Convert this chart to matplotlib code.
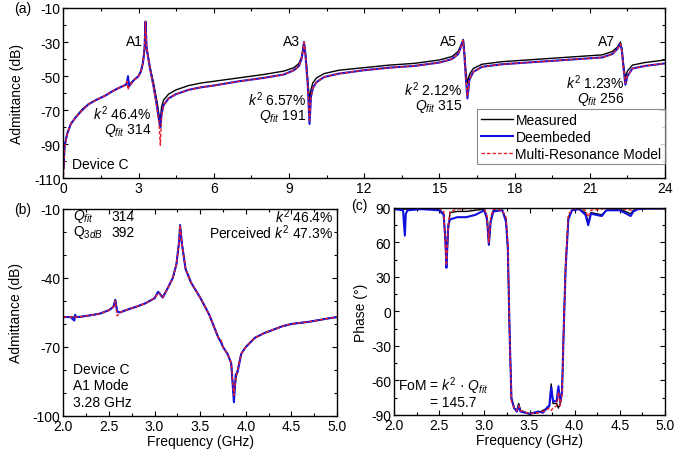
import matplotlib
matplotlib.use("Agg")
import matplotlib.pyplot as plt
from matplotlib.ticker import MultipleLocator

plt.rcParams['font.family'] = ['Liberation Sans', 'DejaVu Sans']
plt.rcParams['mathtext.fontset'] = 'custom'
plt.rcParams['mathtext.rm'] = 'Liberation Sans'
plt.rcParams['mathtext.it'] = 'Liberation Sans:italic'
plt.rcParams['font.size'] = 10
plt.rcParams['axes.unicode_minus'] = False

# ---- panel (a): wideband admittance, 0-24 GHz ----
freq_a = [0.01, 0.05, 0.15, 0.3, 0.5, 0.75, 1.0, 1.3, 1.66, 2.0,
          2.2, 2.5, 2.55, 2.58, 2.62, 2.8, 3.0, 3.1, 3.18, 3.24,
          3.28, 3.32, 3.45, 3.6, 3.75, 3.82, 3.87, 3.92, 4.0, 4.2,
          4.5, 5.0, 5.5, 6.0, 7.0, 8.0, 8.8, 9.2, 9.4, 9.5,
          9.56, 9.6, 9.66, 9.75, 9.82, 9.88, 9.95, 10.1, 10.4, 11.0,
          12.0, 13.0, 14.0, 15.0, 15.5, 15.75, 15.88, 15.95, 16.0, 16.06,
          16.12, 16.2, 16.35, 16.7, 17.5, 19.0, 20.5, 21.5, 21.9, 22.1,
          22.22, 22.28, 22.35, 22.42, 22.5, 22.7, 23.2, 24.0]
measured_a = [-104, -92, -84, -78, -74, -69.5, -66.5, -64, -61.5, -58.5,
              -57, -55, -53, -50.5, -55, -52.5, -50, -47, -42, -34,
              -18, -33, -44, -54, -66, -73, -76, -68, -64, -60.5,
              -58, -55.5, -54, -53, -51, -49, -47, -45, -42.5, -39,
              -34, -30, -36, -52, -64, -58, -54, -51, -48.5, -46.5,
              -45, -43.5, -42.5, -40.5, -38.5, -35.5, -31, -28.5, -36, -48,
              -54, -49, -45.5, -43, -41.5, -40, -38.5, -37.5, -35.5, -33,
              -30, -34, -44, -51, -47, -43.5, -42, -40.5]
deembed_a = [-104, -91, -84, -78, -74, -70, -66.5, -64, -61.5, -58.5,
             -57, -55, -53, -50, -56, -52.5, -50, -47, -42, -34,
             -18, -33, -45, -56, -69, -76, -80, -72, -67, -63,
             -60.5, -58, -56.5, -55.5, -53, -51, -49, -46.5, -44, -40,
             -35, -30, -38, -55, -78, -62, -57, -53.5, -50.5, -48.5,
             -46.5, -45, -44, -42, -40, -37, -32, -29, -38, -52,
             -63, -52, -47.5, -44.5, -43, -41.5, -40, -39, -37, -34,
             -31, -35, -46, -55, -50, -45.5, -44, -42.5]
model_a = [-108, -93, -84, -78, -74, -70, -66.5, -64, -61.5, -58.5,
           -57, -55, -53, -58, -56, -52.5, -50, -47, -42, -34,
           -18, -33, -45, -56, -70, -78, -90.5, -74, -67, -63,
           -60.5, -58, -56.5, -55.5, -53, -51, -49, -46.5, -44, -40,
           -35, -30, -38, -55, -76, -62, -57, -53.5, -50.5, -48.5,
           -46.5, -45, -44, -42, -40, -37, -32, -29, -38, -52,
           -62, -52, -47.5, -44.5, -43, -41.5, -40, -39, -37, -34,
           -31, -35, -46, -54, -50, -45.5, -44, -42.5]

# ---- panel (b): admittance around A1 ----
freq_b = [2.0, 2.08, 2.12, 2.13, 2.14, 2.2, 2.3, 2.4, 2.5, 2.55,
          2.57, 2.59, 2.62, 2.7, 2.8, 2.9, 3.0, 3.04, 3.06, 3.09,
          3.15, 3.2, 3.24, 3.27, 3.28, 3.3, 3.34, 3.4, 3.5, 3.6,
          3.7, 3.73, 3.75, 3.8, 3.84, 3.87, 3.89, 3.91, 3.95, 4.0,
          4.1, 4.15, 4.2, 4.3, 4.4, 4.5, 4.6, 4.7, 4.8, 4.9, 5.0]
measured_b = [-57, -57, -57, -57, -57, -56.8, -56.2, -55.5, -54, -52.5,
              -49.5, -54.5, -55, -53.8, -52.5, -51, -48.8, -46, -47, -48.5,
              -44, -40, -34, -24, -17, -25, -36, -42, -48.5, -56,
              -66, -68, -70, -73, -77, -92, -84, -80, -73, -70,
              -66, -65, -64, -62.5, -61, -60, -59.5, -59, -58.3, -57.6, -57]
deembed_b = [-57, -57, -58.5, -56, -57, -56.8, -56.2, -55.5, -54, -52.5,
             -49.5, -54.5, -55, -53.8, -52.5, -51, -48.8, -46, -47, -48.5,
             -44, -40, -34, -24, -17, -25, -36, -42, -48.5, -56,
             -66, -68, -70, -73, -77, -94, -82, -81, -73, -70,
             -66, -65, -64, -62.5, -61, -60, -59.5, -59, -58.3, -57.6, -57]
model_b = [-57, -57, -57, -57, -57, -56.8, -56.2, -55.5, -54, -52.5,
           -50, -56.5, -55, -53.8, -52.5, -51, -48.8, -46.5, -47, -48.5,
           -44, -40, -34, -24, -17, -25, -36, -42, -48.5, -56,
           -66, -67, -70, -73, -77, -91, -84, -80, -73, -70,
           -66, -65, -64, -62.5, -61, -60, -59.5, -59, -58.3, -57.6, -57]

# ---- panel (c): phase around A1 ----
freq_c = [2.0, 2.1, 2.12, 2.13, 2.15, 2.3, 2.5, 2.55, 2.57, 2.58,
          2.6, 2.62, 2.7, 2.8, 2.9, 3.0, 3.03, 3.05, 3.07, 3.1,
          3.2, 3.24, 3.26, 3.28, 3.3, 3.33, 3.36, 3.38, 3.4, 3.5,
          3.6, 3.65, 3.7, 3.72, 3.74, 3.76, 3.8, 3.82, 3.84, 3.86,
          3.88, 3.9, 3.93, 3.97, 4.05, 4.12, 4.15, 4.18, 4.3, 4.35,
          4.5, 4.62, 4.65, 4.7, 4.8, 5.0]
measured_c = [89, 89, 89, 89, 89, 89.5, 89, 85, 60, 38,
              70, 86, 87, 87, 88, 89, 82, 58, 80, 88,
              88, 80, 55, -20, -75, -84, -86, -80, -86, -89,
              -88, -86, -84, -82, -63, -80, -80, -84, -80, -70,
              -10, 40, 82, 88, 89, 86, 77, 86, 84, 88,
              89, 85, 88, 89, 89.5, 89.5]
deembed_c = [89, 88, 66, 85, 88, 89, 88, 84, 60, 38,
             75, 80, 82, 82, 84, 88, 80, 58, 78, 87,
             88, 78, 55, -20, -76, -84, -87, -82, -87, -89,
             -87, -88, -83, -82, -66, -78, -78, -65, -79, -70,
             -12, 38, 80, 88, 89, 84, 75, 85, 83, 88,
             88, 83, 87, 89, 89.5, 89.5]
model_c = [90, 90, 90, 90, 90, 90, 89.5, 87, 55, 40,
           75, 87, 89, 89.5, 89.5, 89.5, 83, 60, 82, 89,
           88, 82, 60, -20, -78, -84, -86, -82, -86, -89,
           -88, -87, -85, -84, -86, -84, -82, -70, -82, -72,
           -10, 40, 84, 89, 89.5, 88, 82, 88, 89, 89.5,
           89.5, 88, 89.5, 89.5, 89.5, 89.5]

c_meas = 'black'
c_deemb = '#1010e0'
c_model = '#e8202a'
dash = (0, (2.5, 1.5))


def style_axes(ax):
    ax.tick_params(which='both', direction='in', top=True, right=True,
                   labelsize=10, pad=2)
    ax.tick_params(which='major', length=3.5, width=0.8)
    ax.tick_params(which='minor', length=2, width=0.8)
    for s in ax.spines.values():
        s.set_linewidth(1.0)


def draw(ax, f, meas, deemb, model):
    ax.plot(f, meas, color=c_meas, lw=1.0, label='Measured')
    ax.plot(f, deemb, color=c_deemb, lw=1.5, label='Deembeded')
    ax.plot(f, model, color=c_model, lw=1.0, ls=dash, label='Multi-Resonance Model')


fig = plt.figure(figsize=(6.91, 4.60), dpi=100)
ax_a = fig.add_axes([0.0916, 0.6098, 0.8708, 0.3707])
ax_b = fig.add_axes([0.0916, 0.0935, 0.3961, 0.4500])
ax_c = fig.add_axes([0.5702, 0.0957, 0.3922, 0.4500])

# (a)
draw(ax_a, freq_a, measured_a, deembed_a, model_a)
ax_a.set_xlim(0, 24)
ax_a.set_ylim(-110, -10)
ax_a.xaxis.set_major_locator(MultipleLocator(3))
ax_a.xaxis.set_minor_locator(MultipleLocator(1.5))
ax_a.yaxis.set_major_locator(MultipleLocator(20, offset=10))
ax_a.yaxis.set_minor_locator(MultipleLocator(10))
ax_a.set_ylabel('Admittance (dB)', labelpad=7)
style_axes(ax_a)
for x, y, s in [(2.83, -29.5, 'A1'), (9.11, -29.5, 'A3'),
                (15.35, -29.5, 'A5'), (21.68, -29.5, 'A7')]:
    ax_a.text(x, y, s, ha='center', va='center')
for x, y, k2, q in [(3.53, -71.2, '46.4%', '314'), (9.7, -63, '6.57%', '191'),
                    (15.93, -57.5, '2.12%', '315'), (22.38, -53.2, '1.23%', '256')]:
    ax_a.text(x, y, r'$k^2$ ' + k2, ha='right', va='center')
    ax_a.text(x, y - 9.8, r'$Q_{fit}$ ' + q, ha='right', va='center')
ax_a.text(0.35, -101.5, 'Device C', ha='left', va='center')
leg = ax_a.legend(loc='lower right', bbox_to_anchor=(1.0, 0.085), fontsize=10,
                  frameon=True, fancybox=False, edgecolor='#707070',
                  handlelength=2.3, handletextpad=0.2, labelspacing=0.2,
                  borderpad=0.25, borderaxespad=0)
leg.get_frame().set_linewidth(0.8)
fig.text(0.033, 0.98, '(a)', ha='center', va='center')

# (b)
draw(ax_b, freq_b, measured_b, deembed_b, model_b)
ax_b.set_xlim(2.0, 5.0)
ax_b.set_ylim(-100, -10)
ax_b.xaxis.set_major_locator(MultipleLocator(0.5))
ax_b.xaxis.set_minor_locator(MultipleLocator(0.25))
ax_b.yaxis.set_major_locator(MultipleLocator(30, offset=20))
ax_b.yaxis.set_minor_locator(MultipleLocator(10))
ax_b.set_xlabel('Frequency (GHz)', labelpad=1)
ax_b.set_ylabel('Admittance (dB)', labelpad=7)
style_axes(ax_b)
ax_b.text(2.11, -13.0, r'$Q_{fit}$', ha='left', va='center')
ax_b.text(2.53, -13.0, '314', ha='left', va='center')
ax_b.text(2.11, -19.8, r'Q$_{3dB}$', ha='left', va='center')
ax_b.text(2.53, -19.8, '392', ha='left', va='center')
ax_b.text(4.96, -13.0, r'$k^2$ 46.4%', ha='right', va='center')
ax_b.text(4.96, -19.8, r'Perceived $k^2$ 47.3%', ha='right', va='center')
ax_b.text(2.11, -79.6, 'Device C', ha='left', va='center')
ax_b.text(2.11, -86.7, 'A1 Mode', ha='left', va='center')
ax_b.text(2.11, -93.8, '3.28 GHz', ha='left', va='center')
fig.text(0.033, 0.543, '(b)', ha='center', va='center')

# (c)
draw(ax_c, freq_c, measured_c, deembed_c, model_c)
ax_c.set_xlim(2.0, 5.0)
ax_c.set_ylim(-90, 90)
ax_c.xaxis.set_major_locator(MultipleLocator(0.5))
ax_c.xaxis.set_minor_locator(MultipleLocator(0.25))
ax_c.yaxis.set_major_locator(MultipleLocator(30))
ax_c.yaxis.set_minor_locator(MultipleLocator(15))
ax_c.set_xlabel('Frequency (GHz)', labelpad=1)
ax_c.set_ylabel('Phase (°)', labelpad=2)
style_axes(ax_c)
ax_c.text(2.045, -64.5, r'FoM = $k^2$ · $Q_{fit}$', ha='left', va='center')
ax_c.text(2.40, -78.4, '= 145.7', ha='left', va='center')
fig.text(0.520, 0.553, '(c)', ha='center', va='center')

fig.savefig('out.png', dpi=100)
